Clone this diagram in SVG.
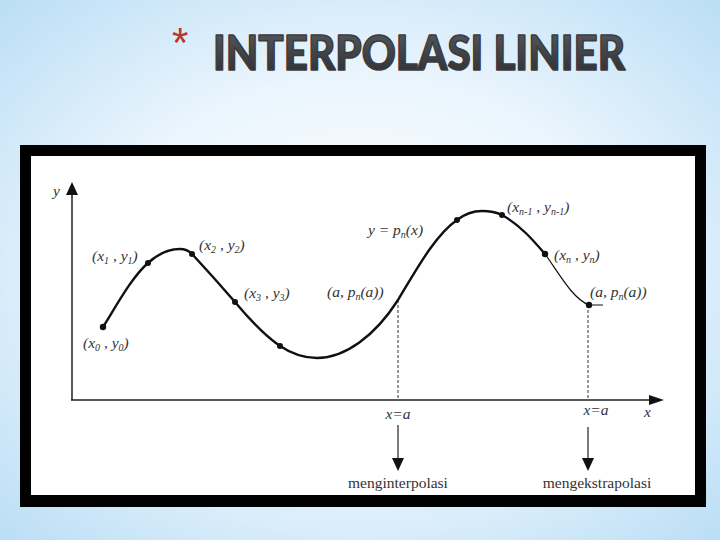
<svg xmlns="http://www.w3.org/2000/svg" width="720" height="540" viewBox="0 0 720 540">
<defs>
<radialGradient id="bg" cx="50%" cy="50%" r="72%">
<stop offset="0" stop-color="#ffffff"/>
<stop offset="0.5" stop-color="#eaf5fd"/>
<stop offset="1" stop-color="#b9ddf5"/>
</radialGradient>
<linearGradient id="tg" x1="0" y1="0" x2="0" y2="1">
<stop offset="0" stop-color="#5a5d62"/>
<stop offset="1" stop-color="#2a2c30"/>
</linearGradient>
<style>
.lbl{font-family:"Liberation Serif","Times New Roman",serif;font-style:italic;font-size:15.5px;fill:#333}
.sub{font-size:10px}
.rom{font-family:"Liberation Serif","Times New Roman",serif;font-size:15.5px;fill:#333}
.dot{fill:#111}
.axis{stroke:#222;stroke-width:1.5;fill:none}
.dash{stroke:#333;stroke-width:1;stroke-dasharray:3 2;fill:none}
.arr{fill:#111}
</style>
</defs>
<rect width="720" height="540" fill="url(#bg)"/>
<g id="title">
<text x="172" y="57" font-family="Liberation Sans,Arial,sans-serif" font-size="42" fill="#b8372b">*</text>
<text x="213" y="70" font-family="Lato,'Open Sans',sans-serif" font-weight="900" font-size="48" fill="url(#tg)" stroke="#3a3c40" stroke-width="1.6" stroke-linejoin="round" textLength="412" lengthAdjust="spacingAndGlyphs">INTERPOLASI LINIER</text>
</g>
<rect x="20" y="145" width="686" height="362" fill="#000"/>
<rect x="31" y="156" width="664" height="339" fill="#fff"/>
<g id="connectors">
<line class="axis" x1="72" y1="400" x2="72" y2="194"/>
<polygon class="arr" points="72,182 66,195 78,195"/>
<line class="axis" x1="71" y1="400" x2="650" y2="400"/>
<polygon class="arr" points="664,400 649,395 649,405"/>
<line class="dash" x1="398" y1="300" x2="398" y2="400"/>
<line class="dash" x1="588" y1="305" x2="588" y2="400"/>
<line stroke="#222" stroke-width="1.2" x1="398" y1="425" x2="398" y2="459"/>
<polygon class="arr" points="392,458 404,458 398,471"/>
<line stroke="#222" stroke-width="1.2" x1="588" y1="427" x2="588" y2="459"/>
<polygon class="arr" points="582,458 594,458 588,471"/>
</g>
<g id="curve">
<path fill="none" stroke="#111" stroke-width="2.4" d="M103,327 C118,303 132,277 148,263 C160,252 170,249 180,249 C186,249 189,251 192,254 C205,268 222,287 235,302 C250,320 264,335 280,346 C292,354 304,358 317,358 C345,358 375,336 398,300 C415,272 435,235 457,220 C466,213 474,211 482,211 C490,211 496,212 502,215 C520,225 533,240 545,254"/>
<path fill="none" stroke="#111" stroke-width="1.2" d="M545,254 C560,275 573,299 589,305 L603,305"/>
</g>
<g id="points">
<circle class="dot" cx="103" cy="327" r="3.2"/>
<circle class="dot" cx="148" cy="263" r="3"/>
<circle class="dot" cx="192" cy="254" r="3"/>
<circle class="dot" cx="235" cy="302" r="3"/>
<circle class="dot" cx="280" cy="346" r="3"/>
<circle class="dot" cx="457" cy="220" r="3"/>
<circle class="dot" cx="502" cy="215" r="3"/>
<circle class="dot" cx="545" cy="254" r="3.2"/>
<circle class="dot" cx="589" cy="305" r="3.2"/>
</g>
<g id="labels">
<text class="lbl" x="53" y="196">y</text>
<text class="lbl" x="644" y="417">x</text>
<text class="lbl" x="83" y="348">(x<tspan class="sub" dy="3">0</tspan><tspan dy="-3"> , y</tspan><tspan class="sub" dy="3">0</tspan><tspan dy="-3">)</tspan></text>
<text class="lbl" x="92" y="261">(x<tspan class="sub" dy="3">1</tspan><tspan dy="-3"> , y</tspan><tspan class="sub" dy="3">1</tspan><tspan dy="-3">)</tspan></text>
<text class="lbl" x="199" y="250">(x<tspan class="sub" dy="3">2</tspan><tspan dy="-3"> , y</tspan><tspan class="sub" dy="3">2</tspan><tspan dy="-3">)</tspan></text>
<text class="lbl" x="244" y="298">(x<tspan class="sub" dy="3">3</tspan><tspan dy="-3"> , y</tspan><tspan class="sub" dy="3">3</tspan><tspan dy="-3">)</tspan></text>
<text class="lbl" x="327" y="297">(a, p<tspan class="sub" dy="3">n</tspan><tspan dy="-3">(a))</tspan></text>
<text class="lbl" x="368" y="235">y = p<tspan class="sub" dy="3">n</tspan><tspan dy="-3">(x)</tspan></text>
<text class="lbl" x="507" y="212">(x<tspan class="sub" dy="3">n-1</tspan><tspan dy="-3"> , y</tspan><tspan class="sub" dy="3">n-1</tspan><tspan dy="-3">)</tspan></text>
<text class="lbl" x="554" y="260">(x<tspan class="sub" dy="3">n</tspan><tspan dy="-3"> , y</tspan><tspan class="sub" dy="3">n</tspan><tspan dy="-3">)</tspan></text>
<text class="lbl" x="590" y="297">(a, p<tspan class="sub" dy="3">n</tspan><tspan dy="-3">(a))</tspan></text>
<text class="lbl" x="398" y="419" text-anchor="middle">x=a</text>
<text class="lbl" x="596" y="415" text-anchor="middle">x=a</text>
<text class="rom" x="398" y="488" text-anchor="middle">menginterpolasi</text>
<text class="rom" x="597" y="488" text-anchor="middle">mengekstrapolasi</text>
</g>
</svg>
